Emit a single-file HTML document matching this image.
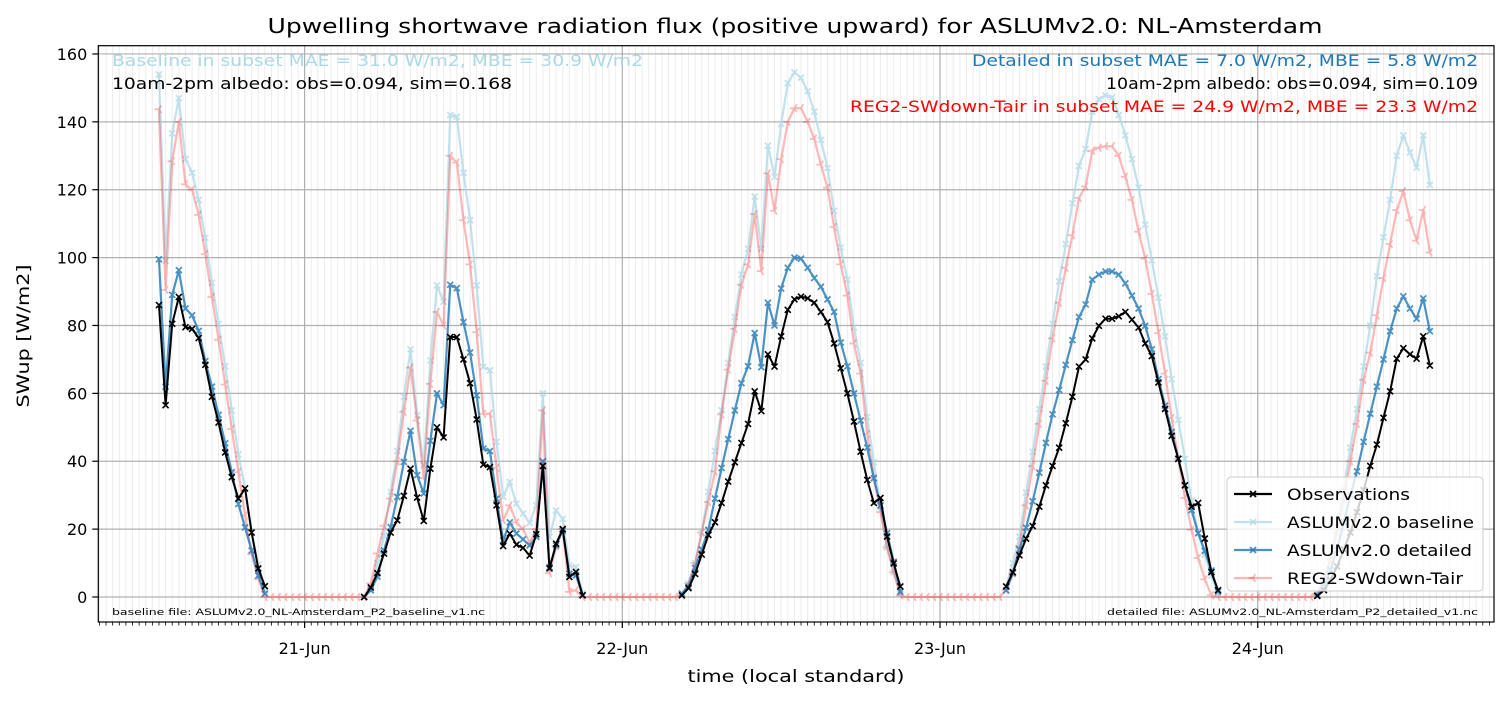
<!DOCTYPE html>
<html><head><meta charset="utf-8"><style>
html,body{margin:0;padding:0;background:#fff;}
svg{display:block;font-family:"DejaVu Sans","Liberation Sans",sans-serif;}
</style></head><body>
<svg id="chart" width="1507" height="701" viewBox="0 0 1507 701" xmlns="http://www.w3.org/2000/svg">
<rect x="0" y="0" width="1507" height="701" fill="#fff"/>
<text x="795" y="33" font-size="20" text-anchor="middle" textLength="1055" lengthAdjust="spacingAndGlyphs">Upwelling shortwave radiation flux (positive upward) for ASLUMv2.0: NL-Amsterdam</text>
<g id="grid"></g>
<g id="series"></g>
<rect x="98.3" y="45.7" width="1395.7" height="576.3" fill="none" stroke="#000" stroke-width="1.2"/>
<g id="axes"></g>
<text x="112" y="66" font-size="16" fill="#add8e6" textLength="531" lengthAdjust="spacingAndGlyphs">Baseline in subset MAE = 31.0 W/m2, MBE = 30.9 W/m2</text>
<text x="112" y="89" font-size="16" fill="#000" textLength="400" lengthAdjust="spacingAndGlyphs">10am-2pm albedo: obs=0.094, sim=0.168</text>
<text x="1478" y="66" font-size="16" fill="#1f77b4" text-anchor="end" textLength="506" lengthAdjust="spacingAndGlyphs">Detailed in subset MAE = 7.0 W/m2, MBE = 5.8 W/m2</text>
<text x="1478" y="89" font-size="16" fill="#000" text-anchor="end" textLength="372" lengthAdjust="spacingAndGlyphs">10am-2pm albedo: obs=0.094, sim=0.109</text>
<text x="1478" y="112" font-size="16" fill="#ff0000" text-anchor="end" textLength="628" lengthAdjust="spacingAndGlyphs">REG2-SWdown-Tair in subset MAE = 24.9 W/m2, MBE = 23.3 W/m2</text>
<text x="112" y="615" font-size="9" textLength="373" lengthAdjust="spacingAndGlyphs">baseline file: ASLUMv2.0_NL-Amsterdam_P2_baseline_v1.nc</text>
<text x="1478" y="615" font-size="9" text-anchor="end" textLength="371" lengthAdjust="spacingAndGlyphs">detailed file: ASLUMv2.0_NL-Amsterdam_P2_detailed_v1.nc</text>
<text x="796" y="682" font-size="17" text-anchor="middle" textLength="217" lengthAdjust="spacingAndGlyphs">time (local standard)</text>
<text x="0" y="0" font-size="17" text-anchor="middle" textLength="143" lengthAdjust="spacingAndGlyphs" transform="translate(29,336) rotate(-90)">SWup [W/m2]</text>
<g id="legend"></g>
</svg>
<script>
// time index in half-hours relative to 21-Jun 00:00, first sample
const startIndex = -22;
const dayLabels = ["21-Jun","22-Jun","23-Jun","24-Jun"];
const dayIndex = [0, 48, 96, 144];
const yTicks = [0,20,40,60,80,100,120,140,160];
const obs = [86,56.5,80.5,88.4,79.5,79,76.3,68.4,59,51.4,42.6,35.3,29,32,19,8.4,3.2,
null,null,null,null,null,null,null,null,null,null,null,null,null,null,
0,2.8,7,12.8,19,22.6,29.8,37.8,29.3,22.4,37.8,50,47,76.6,76.6,70,63,52.3,39,38.3,27,15,18.7,15.4,14.5,12.2,18.5,38.6,8.4,15.7,20,5.9,7.4,0.5,
null,null,null,null,null,null,null,null,null,null,null,null,null,null,
0.5,2.6,6.8,12.5,18.3,22,27.7,34,39.7,45.4,51,60.6,54.8,71.5,67.9,76.8,84.6,87.7,88.5,88,86.7,84,81,74.7,67.4,60,51.7,42.8,34.5,27.7,29.2,17.8,9.9,3.1,
null,null,null,null,null,null,null,null,null,null,null,null,null,null,null,
3.1,7.3,12.3,17.2,20.9,26.6,32.9,38.6,44,51.2,59,67.9,70,76.2,79.9,82,82,82.7,84,81.7,79.4,74.7,71,63.2,55.4,47.5,40.7,32.9,26.6,27.7,17.2,7.3,2,
null,null,null,null,null,null,null,null,null,null,null,null,null,null,
0.3,2,5,9,14,19,25,31.5,38.6,44.9,52.8,60.6,70.2,73.3,71.5,70.2,76.8,68.2];
const baseline = [154,99,136.6,147,129,125,117,105.8,92.6,80.5,68,55,42,32,19,9.5,2,
null,null,null,null,null,null,null,null,null,null,null,null,null,null,
0,2,10,18,31,43,59,73,53.5,38.8,69.7,91.8,87,142,141.5,125,111,91.8,67.8,66.8,45.7,29.5,33.9,27.5,24.6,21.8,27,60,17.7,25.5,23,9.3,8.8,1,
null,null,null,null,null,null,null,null,null,null,null,null,null,null,
1,4,10,19,31,43,55,69,82.5,95,102.6,118,102.6,133,123.8,139.4,151.4,154.6,153,149,143,134.7,126.4,113.8,103,93.5,79.4,69,53,39.7,26.6,14.6,7.3,1,
null,null,null,null,null,null,null,null,null,null,null,null,null,null,null,
3,10,17.8,30.8,42.8,55.4,67.9,80.5,93,104,116,127,132,143,146.7,147.8,147.2,142,136,129,120.6,109.7,99.2,88.2,76.8,64.2,52.2,40.7,28.2,18.8,12.5,6.3,1,
null,null,null,null,null,null,null,null,null,null,null,null,null,null,
1,5,12,21,32,44,55.4,67.9,80,94.5,106,117,130,136,131,126.5,136,121.4];
const detailed = [99.5,62,89,96.3,85,83,78.4,69.5,62,53.7,45.3,36.8,27.4,20.5,13.7,6.3,1,
null,null,null,null,null,null,null,null,null,null,null,null,null,null,
0,2,6,13.7,20.6,29.5,39.8,49,35.9,30.5,46,60,56.5,92,91,81,72,59.4,43.7,43,29,16.7,22,18.7,17,15.2,17.7,40,8.8,15.2,19.6,6.9,6.4,0.5,
null,null,null,null,null,null,null,null,null,null,null,null,null,null,
1,3,8.6,14,19.8,29,38,46.5,55,63,68,77.8,67.7,86.7,80,90.9,97,100,99.7,97,94,91.4,87.7,84,75,68,60,52,44,35,27,18.8,10.4,1.6,
null,null,null,null,null,null,null,null,null,null,null,null,null,null,null,
2,7,14,20.4,28.2,36.6,45.4,53.8,61,68.4,75.7,82.5,86.2,93.5,95,95.9,95.9,95,92.4,88.8,85,79.9,73,64.2,56.4,48.6,40.7,32.9,25.6,18.8,13.6,7.8,1.6,
null,null,null,null,null,null,null,null,null,null,null,null,null,null,
0.5,3,8,14,22,30,37,45.7,54,62,70,78.3,85,88.6,85,82,88,78.3];
const reg2 = [143.7,90.5,128.4,140,121.6,120,112.6,101,88.4,75.8,62.6,49.5,36.8,24,12.6,5.3,0,
0,0,0,0,0,0,0,0,0,0,0,0,0,0,
0,4,12.8,21,29,40,54.6,67.6,52,35,62.8,84,80,130,128,111,98,78,54,54,38,22.6,27,22,20,16,20,55,7,15,20,1.5,2,0,
0,0,0,0,0,0,0,0,0,0,0,0,0,0,
0.5,4,10,19,28,37,53.8,67,79,92,98,112.8,96,124.8,113.8,129,140,144,144,140,135,127.4,120.6,109,98,88.8,74.7,65.8,48,35,25,14.6,7.3,0.5,
0,0,0,0,0,0,0,0,0,0,0,0,0,0,0,
2,7,15,27,38.6,51,63.7,76.2,86.7,97,106.6,117.6,121,131.5,132.4,132.8,132.8,130,123.8,117,107.6,99.7,89.3,77.8,65.8,52.7,40.7,29.2,19.8,11.5,5.2,0.5,0,
0,0,0,0,0,0,0,0,0,0,0,0,0,0,
1,5,11,19,29,40,51,64,72,83,94,104,114,119.6,111,105,114,101.5];

const NS = "http://www.w3.org/2000/svg";
const L = 98.3, R = 1494, T = 45.7, B = 622;
function xOf(t){ return 304.6 + t * 6.619; }
function yOf(v){ return 597 - v * 3.394; }
function mk(tag, attrs, parent){
  const e = document.createElementNS(NS, tag);
  for (const k in attrs) e.setAttribute(k, attrs[k]);
  parent.appendChild(e);
  return e;
}
const grid = document.getElementById('grid');
const axes = document.getElementById('axes');
const series = document.getElementById('series');
const tMin = Math.ceil((L - 304.6) / 6.619), tMax = Math.floor((R - 304.6) / 6.619);
for (let t = tMin; t <= tMax; t++) {
  const x = xOf(t);
  const g = mk('line', {x1:x, x2:x, y1:T, y2:B, stroke:'#ececec', 'stroke-width':1}, grid);
  
  
  const tk = mk('line', {x1:x, x2:x, y1:B, y2:B+3.5, stroke:'#000', 'stroke-width':0.8}, axes);
  
  
}
yTicks.forEach(v => {
  const y = yOf(v);
  const g = mk('line', {x1:L, x2:R, y1:y, y2:y, stroke:'#b0b0b0', 'stroke-width':1.2}, grid);
  
  
  const tk = mk('line', {x1:L-6, x2:L, y1:y, y2:y, stroke:'#000', 'stroke-width':1.2}, axes);
  
  
  const lb = mk('text', {x:L-11, y:y+6, 'font-size':16, 'text-anchor':'end'}, axes);
  lb.textContent = String(v);
  
  
});
dayIndex.forEach((t, i) => {
  const x = xOf(t);
  const g = mk('line', {x1:x, x2:x, y1:T, y2:B, stroke:'#b0b0b0', 'stroke-width':1.2}, grid);
  
  
  const tk = mk('line', {x1:x, x2:x, y1:B, y2:B+6, stroke:'#000', 'stroke-width':1.2}, axes);
  
  
  const lb = mk('text', {x:x, y:654, 'font-size':16, 'text-anchor':'middle'}, axes);
  lb.textContent = dayLabels[i];
  
  
});
function markerPath(kind, x, y, s){
  if (kind === 'x') return `M${x-s},${y-s}L${x+s},${y+s}M${x-s},${y+s}L${x+s},${y-s}`;
  return `M${x},${y}L${x-s*1.3},${y}M${x},${y}L${x+s*0.65},${y-s*1.13}M${x},${y}L${x+s*0.65},${y+s*1.13}`;
}
function drawSeries(data, name, color, opacity, width, marker, msz){
  const g = mk('g', {opacity:opacity}, series);
  
  
  let d = '', pen = false, md = '';
  data.forEach((v, i) => {
    if (v === null) { pen = false; return; }
    const x = xOf(startIndex + i), y = yOf(v);
    d += (pen ? 'L' : 'M') + x.toFixed(2) + ',' + y.toFixed(2);
    pen = true;
    md += markerPath(marker, x, y, msz);
  });
  const p = mk('path', {d:d, fill:'none', stroke:color, 'stroke-width':width, 'stroke-linejoin':'round'}, g);
  
  
  const m = mk('path', {d:md, fill:'none', stroke:color, 'stroke-width':width*0.8}, g);
  
  
}
drawSeries(baseline, 'baseline', '#add8e6', 0.75, 2.2, 'x', 3);
drawSeries(reg2, 'reg2', '#ff0000', 0.28, 2.2, 'tri', 3.5);
drawSeries(detailed, 'detailed', '#1f77b4', 0.8, 2.2, 'x', 3);
drawSeries(obs, 'observations', '#000000', 1, 2, 'x', 3);

const lg = document.getElementById('legend');
const box = mk('rect', {x:1227, y:477, width:256, height:114, rx:4, fill:'#fff', 'fill-opacity':0.8, stroke:'#cccccc', 'stroke-width':1}, lg);


const legendItems = [
  ['Observations', '#000', 1, 'x', 123],
  ['ASLUMv2.0 baseline', '#add8e6', 0.75, 'x', 187],
  ['ASLUMv2.0 detailed', '#1f77b4', 0.8, 'x', 185],
  ['REG2-SWdown-Tair', '#ff0000', 0.28, 'tri', 176]
];
legendItems.forEach((it, i) => {
  const y = 494 + i * 28;
  const g = mk('g', {}, lg);
  
  
  mk('line', {x1:1234, x2:1272, y1:y, y2:y, stroke:it[1], 'stroke-width':2.2, opacity:it[2]}, g);
  mk('path', {d:markerPath(it[3], 1253, y, it[3]==='x'?3:3.5), fill:'none', stroke:it[1], 'stroke-width':1.8, opacity:it[2]}, g);
  const t = mk('text', {x:1287, y:y+6, 'font-size':16, textLength:it[4], lengthAdjust:'spacingAndGlyphs'}, g);
  t.textContent = it[0];
});
</script>
</body></html>
